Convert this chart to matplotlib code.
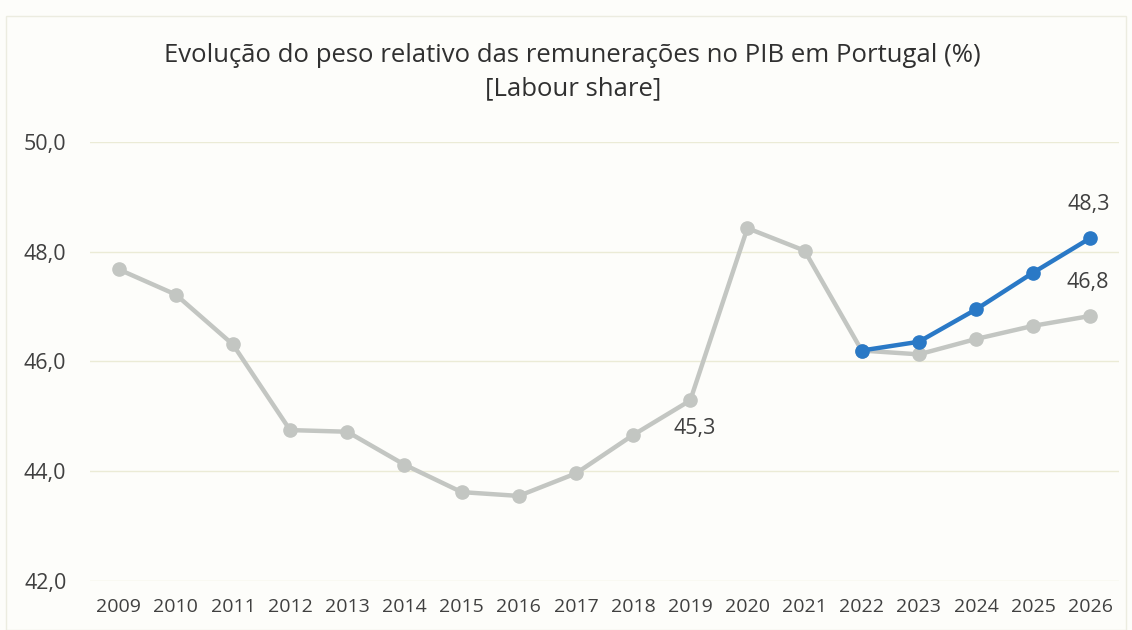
import matplotlib.pyplot as plt
from matplotlib.patches import Rectangle

plt.rcParams['font.family'] = ['Open Sans', 'DejaVu Sans']

years = [str(y) for y in range(2009, 2027)]
labour_share = [47.68, 47.22, 46.31, 44.75, 44.72, 44.12, 43.62, 43.55, 43.96,
                44.66, 45.29, 48.43, 48.02, 46.20, 46.13, 46.41, 46.65, 46.83]
proj_years = years[13:]
proj_share = [46.20, 46.36, 46.95, 47.62, 48.25]
yticks = [42, 44, 46, 48, 50]

gray = '#c3c6c2'
blue = '#2a79c6'
txt = '#404040'

fig = plt.figure(figsize=(11.32, 6.3), dpi=100, facecolor='#fdfdfa')
fig.patches.append(Rectangle((0.005, 0.0), 0.99, 0.975, transform=fig.transFigure,
                             fill=False, edgecolor='#ecece0', linewidth=1))
ax = fig.add_axes([0.0795, 0.0778, 0.909, 0.6968])
ax.set_facecolor('none')

x = list(range(len(years)))
xp = x[13:]
ax.plot(x, labour_share, color=gray, lw=3.2, marker='o', ms=9.5, zorder=3)
ax.plot(xp, proj_share, color=blue, lw=3.2, marker='o', ms=9.5, zorder=4)

ax.set_xlim(-0.5, len(years) - 0.5)
ax.set_ylim(42, 50)
ax.set_yticks(yticks)
ax.set_yticklabels([f'{v:.1f}'.replace('.', ',') for v in yticks])
ax.set_xticks(x)
ax.set_xticklabels(years)
ax.grid(axis='y', color='#ebebd6', lw=1)
ax.set_axisbelow(True)
for s in ax.spines.values():
    s.set_visible(False)
ax.tick_params(axis='both', length=0, colors=txt)
ax.tick_params(axis='x', labelsize=14, pad=12)
ax.tick_params(axis='y', labelsize=15.5, pad=17)

ax.annotate('45,3', (10, labour_share[10]), xytext=(3, -20), textcoords='offset points',
            ha='center', va='center', fontsize=15.5, color=txt)
ax.annotate('48,3', (17, proj_share[-1]), xytext=(-1.5, 24), textcoords='offset points',
            ha='center', va='center', fontsize=15.5, color=txt)
ax.annotate('46,8', (17, labour_share[-1]), xytext=(-2, 24), textcoords='offset points',
            ha='center', va='center', fontsize=15.5, color=txt)

fig.text(0.506, 0.912, 'Evolução do peso relativo das remunerações no PIB em Portugal (%)',
         ha='center', va='center', fontsize=18.5, color='#303030')
fig.text(0.506, 0.859, '[Labour share]', ha='center', va='center', fontsize=18.5, color='#303030')

fig.savefig('out.png', dpi=100, facecolor=fig.get_facecolor())
